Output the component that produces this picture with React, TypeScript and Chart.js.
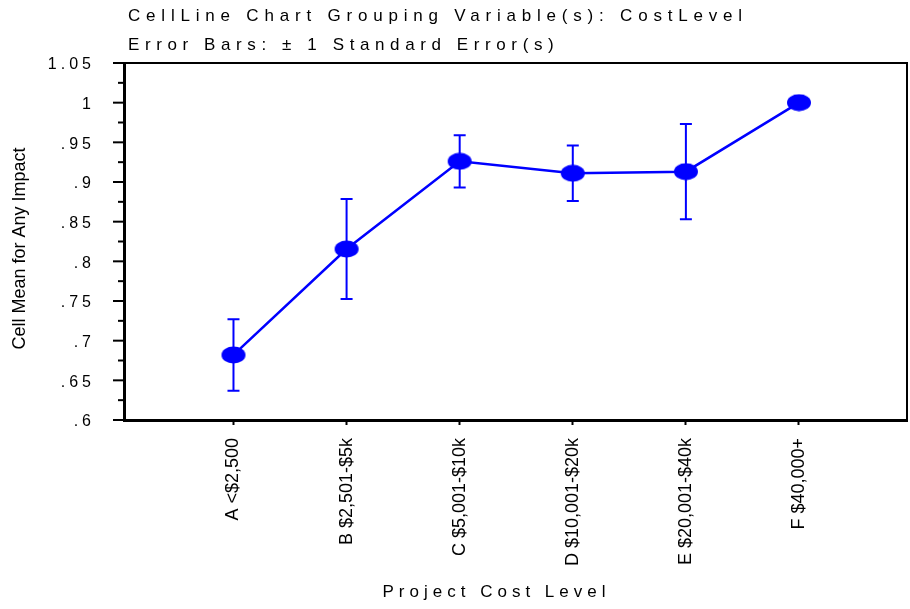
import React, { useEffect, useRef } from "react";
import { Chart, registerables } from "chart.js";

Chart.register(...registerables);

// ---- data ----
const CATEGORIES = [
  "A <$2,500",
  "B $2,501-$5k",
  "C $5,001-$10k",
  "D $10,001-$20k",
  "E $20,001-$40k",
  "F $40,000+",
];
const MEANS = [0.682, 0.8155, 0.926, 0.911, 0.913, 1.0];
const STD_ERRORS = [0.045, 0.063, 0.033, 0.035, 0.06, 0];
const Y_MAJOR_TICKS = [0.6, 0.65, 0.7, 0.75, 0.8, 0.85, 0.9, 0.95, 1.0, 1.05];
const Y_TICK_LABELS = [".6", ".65", ".7", ".75", ".8", ".85", ".9", ".95", "1", "1.05"];
const TITLE_LINES = [
  "CellLine Chart Grouping Variable(s): CostLevel",
  "Error Bars: \u00B1 1 Standard Error(s)",
];
const X_TITLE = "Project Cost Level";
const Y_TITLE = "Cell Mean for Any Impact";

const BLUE = "#0000FF";
const FONT = '"Liberation Sans", Arial, Helvetica, sans-serif';

function makeEllipse(): HTMLCanvasElement {
  const c = document.createElement("canvas");
  c.width = 26;
  c.height = 18;
  const g = c.getContext("2d")!;
  g.fillStyle = BLUE;
  g.beginPath();
  g.ellipse(13, 9, 12, 8.5, 0, 0, Math.PI * 2);
  g.fill();
  return c;
}

function spacedText(
  ctx: CanvasRenderingContext2D,
  text: string,
  x: number,
  y: number,
  spacing: number,
  align: CanvasTextAlign
) {
  (ctx as any).letterSpacing = spacing + "px";
  ctx.textAlign = align;
  let xx = x;
  if (align === "center") xx = x + spacing / 2;
  if (align === "right") xx = x + spacing;
  ctx.fillText(text, xx, y);
  (ctx as any).letterSpacing = "0px";
}

const decorPlugin = {
  id: "decor",
  beforeDatasetsDraw(chart: any) {
    const { ctx, scales } = chart;
    const xs = scales.x;
    const ys = scales.y;
    ctx.save();
    ctx.strokeStyle = BLUE;
    ctx.lineWidth = 2;
    MEANS.forEach((m, i) => {
      const se = STD_ERRORS[i];
      if (!se) return;
      const px = xs.getPixelForValue(i);
      const top = ys.getPixelForValue(m + se);
      const bot = ys.getPixelForValue(m - se);
      ctx.beginPath();
      ctx.moveTo(px, top);
      ctx.lineTo(px, bot);
      ctx.moveTo(px - 6, top);
      ctx.lineTo(px + 6, top);
      ctx.moveTo(px - 6, bot);
      ctx.lineTo(px + 6, bot);
      ctx.stroke();
    });
    ctx.restore();
  },
  afterDraw(chart: any) {
    const { ctx, chartArea: a, scales } = chart;
    const ys = scales.y;
    ctx.save();
    ctx.strokeStyle = "#000";
    // top & right frame
    ctx.lineWidth = 2;
    ctx.beginPath();
    ctx.moveTo(a.left, a.top);
    ctx.lineTo(a.right, a.top);
    ctx.lineTo(a.right, a.bottom);
    ctx.stroke();
    // left & bottom axis lines
    ctx.lineWidth = 3;
    ctx.beginPath();
    ctx.moveTo(a.left + 0.5, a.top - 1);
    ctx.lineTo(a.left + 0.5, a.bottom + 0.5);
    ctx.lineTo(a.right + 1, a.bottom + 0.5);
    ctx.stroke();

    // y ticks
    ctx.lineWidth = 2;
    Y_MAJOR_TICKS.forEach((v, i) => {
      const py = ys.getPixelForValue(v);
      ctx.beginPath();
      ctx.moveTo(a.left - 11, py);
      ctx.lineTo(a.left, py);
      ctx.stroke();
      if (i < Y_MAJOR_TICKS.length - 1) {
        const pm = ys.getPixelForValue((v + Y_MAJOR_TICKS[i + 1]) / 2);
        ctx.beginPath();
        ctx.moveTo(a.left - 6, pm);
        ctx.lineTo(a.left, pm);
        ctx.stroke();
      }
    });

    ctx.fillStyle = "#000";
    ctx.font = "16px " + FONT;
    ctx.textBaseline = "middle";
    Y_MAJOR_TICKS.forEach((v, i) => {
      const py = ys.getPixelForValue(v);
      spacedText(ctx, Y_TICK_LABELS[i], 91, py + 2, 4, "right");
    });

    // titles
    ctx.textBaseline = "alphabetic";
    ctx.font = "17px " + FONT;
    spacedText(ctx, TITLE_LINES[0], 128, 21, 5.8, "left");
    spacedText(ctx, TITLE_LINES[1], 128, 50, 5.6, "left");
    spacedText(ctx, X_TITLE, 494, 597, 5, "center");

    // y title
    ctx.font = "18px " + FONT;
    ctx.translate(20, 248.5);
    ctx.rotate(-Math.PI / 2);
    ctx.textBaseline = "middle";
    ctx.textAlign = "center";
    ctx.fillText(Y_TITLE, 0, 0);
    ctx.restore();
  },
};

export default function App() {
  const ref = useRef<HTMLCanvasElement | null>(null);
  useEffect(() => {
    if (!ref.current) return;
    const ellipse = makeEllipse();
    const chart = new Chart(ref.current, {
      type: "line",
      data: {
        datasets: [
          {
            data: MEANS.map((m, i) => ({ x: i, y: m })),
            borderColor: BLUE,
            backgroundColor: BLUE,
            borderWidth: 2.5,
            pointStyle: ellipse as any,
            pointRadius: 12,
            pointHoverRadius: 12,
            tension: 0,
          },
        ],
      },
      options: {
        responsive: false,
        animation: false,
        devicePixelRatio: 1,
        layout: { autoPadding: false, padding: { top: 63, right: 3, left: 0, bottom: 0 } },
        plugins: {
          legend: { display: false },
          tooltip: { enabled: false },
          title: { display: false },
        },
        scales: {
          x: {
            type: "linear",
            min: -0.968,
            max: 5.955,
            afterBuildTicks: (s: any) => {
              s.ticks = CATEGORIES.map((_, i) => ({ value: i }));
            },
            afterFit: (s: any) => {
              s.height = 189;
              s.paddingLeft = 0;
              s.paddingRight = 0;
            },
            border: { display: false },
            grid: {
              display: true,
              drawOnChartArea: false,
              drawTicks: true,
              tickLength: 5,
              tickWidth: 2,
              tickColor: "#000",
            },
            ticks: {
              autoSkip: false,
              minRotation: 90,
              maxRotation: 90,
              padding: 13,
              color: "#000",
              font: { family: FONT, size: 18 },
              callback: (v: any) => CATEGORIES[v] ?? "",
            },
          },
          y: {
            type: "linear",
            min: 0.6,
            max: 1.05,
            afterFit: (s: any) => {
              s.width = 124;
              s.paddingTop = 0;
              s.paddingBottom = 0;
            },
            border: { display: false },
            grid: { display: false },
            ticks: { display: false, stepSize: 0.05 },
          },
        },
      },
      plugins: [decorPlugin],
    });
    return () => chart.destroy();
  }, []);
  return (
    <div style={{ position: "absolute", left: 0, top: 0, width: 910, height: 609, background: "#fff" }}>
      <canvas ref={ref} width={910} height={609} style={{ display: "block" }} />
    </div>
  );
}
